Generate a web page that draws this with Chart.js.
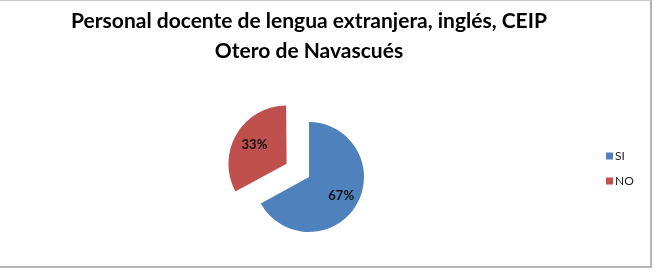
<!DOCTYPE html>
<html>
<head>
<meta charset="utf-8">
<script src="https://cdn.jsdelivr.net/npm/chart.js@4/dist/chart.umd.min.js"></script>
<style>
html,body{margin:0;padding:0;background:#fff;}
#wrap{position:relative;width:656px;height:272px;}
#frame{position:absolute;left:0;top:0;width:650px;height:265px;border-top:1px solid #c9c9c9;border-right:2px solid #b4b4b4;border-bottom:2px solid #b4b4b4;pointer-events:none;}
</style>
</head>
<body>
<div id="wrap"><canvas id="c" width="656" height="272"></canvas><div id="frame"></div></div>
<script>
const titleLines = ["Personal docente de lengua extranjera, inglés, CEIP", "Otero de Navascués"];
const categories = ["SI", "NO"];
const values = [67, 33];
const colors = ["#4F81BD", "#C0504D"];
const offsets = [0, 104];

const labelPlugin = {
  id: 'sliceLabels',
  afterDatasetsDraw(chart) {
    const ctx = chart.ctx;
    const meta = chart.getDatasetMeta(0);
    const total = values.reduce((a, b) => a + b, 0);
    ctx.save();
    ctx.font = 'bold 13px Lato';
    ctx.fillStyle = '#111';
    ctx.textAlign = 'center';
    ctx.textBaseline = 'middle';
    meta.data.forEach((arc, i) => {
      const p = arc.getProps(['x', 'y', 'startAngle', 'endAngle', 'outerRadius'], true);
      const mid = (p.startAngle + p.endAngle) / 2;
      const d = offsets[i] / 4 + p.outerRadius * 0.68;
      const x = p.x + Math.cos(mid) * d;
      const y = p.y + Math.sin(mid) * d;
      ctx.fillText(Math.round(values[i] / total * 100) + '%', x, y);
    });
    ctx.restore();
  }
};

const legendPlugin = {
  id: 'sideLegend',
  afterDraw(chart) {
    const ctx = chart.ctx;
    ctx.save();
    ctx.font = '12px Lato';
    ctx.textBaseline = 'middle';
    categories.forEach((c, i) => {
      const y = 156 + i * 25;
      ctx.fillStyle = colors[i];
      ctx.fillRect(606, y - 3.5, 7, 7);
      ctx.fillStyle = '#222';
      ctx.fillText(c, 615, y);
    });
    ctx.restore();
  }
};

new Chart(document.getElementById('c'), {
  type: 'pie',
  data: {
    labels: categories,
    datasets: [{
      data: values,
      backgroundColor: colors,
      borderWidth: 0,
      offset: offsets
    }]
  },
  options: {
    responsive: false,
    animation: false,
    radius: 55,
    layout: { padding: { left: 0, right: 38, top: 0, bottom: 0 } },
    plugins: {
      legend: { display: false },
      tooltip: { enabled: false },
      title: {
        display: true,
        text: titleLines,
        color: '#000',
        font: { family: 'Lato', size: 21, weight: 'bold', lineHeight: 1.43 },
        padding: { top: 6, bottom: 16 }
      }
    }
  },
  plugins: [labelPlugin, legendPlugin]
});
</script>
</body>
</html>
